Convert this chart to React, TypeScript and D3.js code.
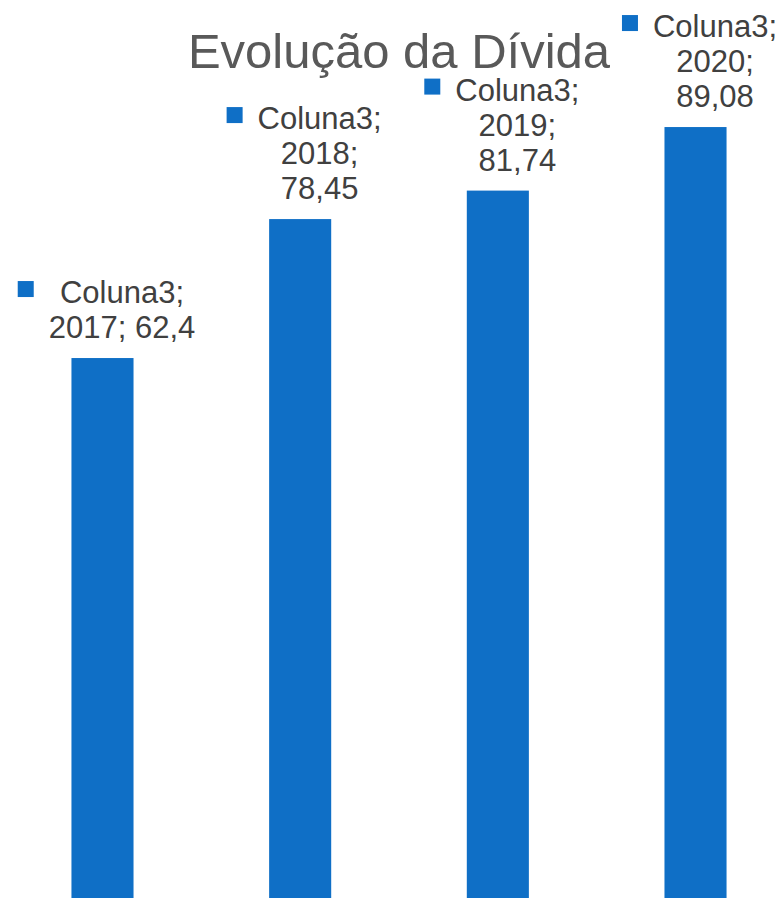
import React from "react";
import * as d3 from "d3";

const W = 782;
const H = 898;

const seriesName = "Coluna3";
const years = ["2017", "2018", "2019", "2020"];
const values = [62.4, 78.45, 81.74, 89.08];
const valueLabels = ["62,4", "78,45", "81,74", "89,08"];
// label line grouping (as Excel wrapped them)
const labelLines = [
  [`${seriesName};`, `${years[0]}; ${valueLabels[0]}`],
  [`${seriesName};`, `${years[1]};`, valueLabels[1]],
  [`${seriesName};`, `${years[2]};`, valueLabels[2]],
  [`${seriesName};`, `${years[3]};`, valueLabels[3]],
];
const title = "Evolução da Dívida";

const BAR_COLOR = "#0F6FC6";
const TEXT_COLOR = "#404040";
const TITLE_COLOR = "#595959";
const FONT = "'Liberation Sans', Arial, sans-serif";

export default function App() {
  const x = d3
    .scaleBand<string>()
    .domain(years)
    .range([8, 790])
    .paddingInner(0.686)
    .paddingOuter(0.321);
  const y = d3.scaleLinear().domain([0, 100]).range([898.3, 32.5]);

  const fontSize = 31;
  const lineH = 35;

  // approximate text widths (Arial metrics)
  const measure = (s: string) => {
    const canvas = document.createElement("canvas");
    const ctx = canvas.getContext("2d");
    if (!ctx) return s.length * fontSize * 0.55;
    ctx.font = `${fontSize}px ${FONT}`;
    return ctx.measureText(s).width;
  };

  return (
    <svg
      width={W}
      height={H}
      style={{ position: "absolute", left: 0, top: 0, background: "#fff" }}
      fontFamily={FONT}
    >
      <rect x={0} y={0} width={W} height={H} fill="#fff" />
      {years.map((yr, i) => (
        <rect
          key={yr}
          x={x(yr)!}
          y={y(values[i])}
          width={x.bandwidth()}
          height={y(0) - y(values[i])}
          fill={BAR_COLOR}
        />
      ))}
      {years.map((yr, i) => {
        const lines = labelLines[i];
        const cx = x(yr)! + x.bandwidth() / 2 + 19.5;
        const lastBase = y(values[i]) - 20;
        const firstBase = lastBase - (lines.length - 1) * lineH;
        const maxW = Math.max(...lines.map(measure));
        const left = cx - maxW / 2;
        return (
          <g key={"l" + yr}>
            <rect
              x={left - 31}
              y={firstBase - 22}
              width={16}
              height={16}
              fill={BAR_COLOR}
            />
            {lines.map((ln, j) => (
              <text
                key={j}
                x={cx}
                y={firstBase + j * lineH}
                textAnchor="middle"
                fontSize={fontSize}
                fill={TEXT_COLOR}
              >
                {ln}
              </text>
            ))}
          </g>
        );
      })}
      <text
        x={399}
        y={68}
        textAnchor="middle"
        fontSize={49}
        fill={TITLE_COLOR}
      >
        {title}
      </text>
    </svg>
  );
}
